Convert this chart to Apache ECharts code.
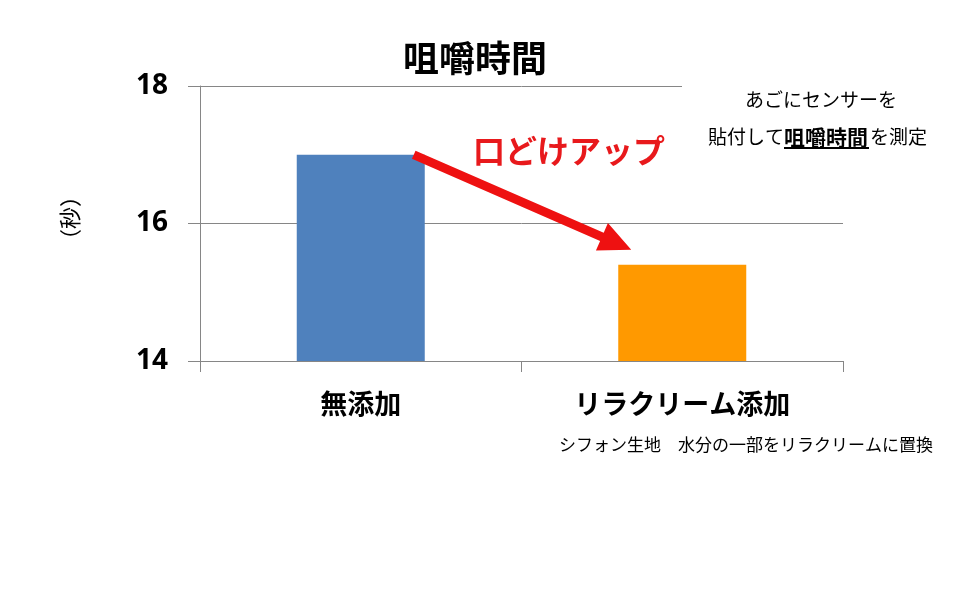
<!DOCTYPE html>
<html>
<head>
<meta charset="utf-8">
<script src="https://cdn.jsdelivr.net/npm/echarts@6/dist/echarts.min.js"></script>
<style>
  html, body { margin: 0; padding: 0; background: #fff; }
  #figure0 { width: 960px; height: 590px; }
</style>
</head>
<body>
<div id="figure0"></div>
<script>
// data
var categories = ['無添加', 'リラクリーム添加'];
var values = [17.0, 15.4];
var barColors = ['#4f81bd', '#ff9900'];
var yMin = 14, yMax = 18, yStep = 2;
// arrow anchored on data: [category index, value]
var arrowFrom = [0, 17.0];
var arrowTo = [1, 15.62];
var noteLines = ['あごにセンサーを', '貼付して', '咀嚼時間', 'を測定'];
var footNote = 'シフォン生地　水分の一部をリラクリームに置換';

var jp = '"Noto Sans CJK JP", "Noto Sans", sans-serif';
var axisGrey = '#868686';

var figure0 = echarts.init(document.getElementById('figure0'));
var option = {
    animation: false,
    backgroundColor: '#fff',
    title: {
        text: '咀嚼時間',
        left: 398, top: 35,
        textStyle: {fontFamily: jp, fontSize: 36, fontWeight: 'bold', color: '#000'}
    },
    grid: {left: 200, right: 117, top: 86, bottom: 229},
    xAxis: {
        type: 'category',
        data: categories,
        axisLine: {lineStyle: {color: axisGrey, width: 1}},
        axisTick: {show: true, length: 11, lineStyle: {color: axisGrey}},
        axisLabel: {margin: 29, fontFamily: jp, fontSize: 27, fontWeight: 'bold', color: '#000'}
    },
    yAxis: {
        type: 'value',
        min: yMin, max: yMax, interval: yStep,
        axisLine: {show: true, lineStyle: {color: axisGrey, width: 1}},
        axisTick: {show: true, length: 12, lineStyle: {color: axisGrey}},
        axisLabel: {margin: 32, fontFamily: '"Noto Sans", sans-serif', fontSize: 28, fontWeight: 'bold', color: '#000'},
        splitLine: {lineStyle: {color: axisGrey, width: 1}}
    },
    series: [{
        type: 'bar',
        barWidth: 128,
        data: values.map(function (v, i) {
            return {value: v, itemStyle: {color: barColors[i]}};
        })
    }]
};
figure0.setOption(option);

// arrow, computed from the data anchors
var p0 = figure0.convertToPixel({seriesIndex: 0}, arrowFrom);
var p1 = figure0.convertToPixel({seriesIndex: 0}, arrowTo);
var x0 = p0[0] + 53, y0 = p0[1], x1 = p1[0] - 51, y1 = p1[1];
var dx = x1 - x0, dy = y1 - y0, len = Math.sqrt(dx * dx + dy * dy);
var ux = dx / len, uy = dy / len, nx = -uy, ny = ux;
var shaft = 4.5, headLen = 32, headHalf = 15;
var bx = x1 - ux * headLen, by = y1 - uy * headLen;
var arrowPts = [
    [x0 + nx * shaft, y0 + ny * shaft],
    [bx + nx * shaft, by + ny * shaft],
    [bx + nx * headHalf, by + ny * headHalf],
    [x1, y1],
    [bx - nx * headHalf, by - ny * headHalf],
    [bx - nx * shaft, by - ny * shaft],
    [x0 - nx * shaft, y0 - ny * shaft]
];

// measure the note pieces so the underline fits the bold part
var ctx = document.createElement('canvas').getContext('2d');
function textW(font, s) { ctx.font = font; return ctx.measureText(s).width; }
var fNorm = '19px ' + jp, fBold = 'bold 21px ' + jp;
var nx0 = 708;
var nx1 = nx0 + textW(fNorm, noteLines[1]);
var nx2 = nx1 + textW(fBold, noteLines[2]) + 2;

figure0.setOption({
    graphic: [
        {type: 'rect', z: 50, shape: {x: 682, y: 78, width: 278, height: 80}, style: {fill: '#fff'}},
        {type: 'text', z: 60, x: 821, y: 100, style: {text: noteLines[0], font: fNorm, fill: '#000', textAlign: 'center', textVerticalAlign: 'middle'}},
        {type: 'text', z: 60, x: nx0, y: 137, style: {text: noteLines[1], font: fNorm, fill: '#000', textAlign: 'left', textVerticalAlign: 'middle'}},
        {type: 'text', z: 60, x: nx1, y: 137, style: {text: noteLines[2], font: fBold, fill: '#000', textAlign: 'left', textVerticalAlign: 'middle'}},
        {type: 'line', z: 60, shape: {x1: nx1, y1: 148, x2: nx2 - 1, y2: 148}, style: {stroke: '#000', lineWidth: 2}},
        {type: 'text', z: 60, x: nx2, y: 137, style: {text: noteLines[3], font: fNorm, fill: '#000', textAlign: 'left', textVerticalAlign: 'middle'}},
        {type: 'text', z: 60, x: 559, y: 445, style: {text: footNote, font: '17px ' + jp, fill: '#000', textAlign: 'left', textVerticalAlign: 'middle'}},
        {type: 'text', z: 60, x: 473, y: 151, style: {text: '口どけアップ', font: 'bold 32px ' + jp, fill: '#e8191c', textAlign: 'left', textVerticalAlign: 'middle'}},
        {type: 'text', z: 60, x: 70, y: 218, rotation: Math.PI / 2, style: {text: '（秒）', font: '22px ' + jp, fill: '#000', textAlign: 'center', textVerticalAlign: 'middle'}},
        {type: 'polygon', z: 70, shape: {points: arrowPts}, style: {fill: '#ee1111'}}
    ]
});
</script>
</body>
</html>
